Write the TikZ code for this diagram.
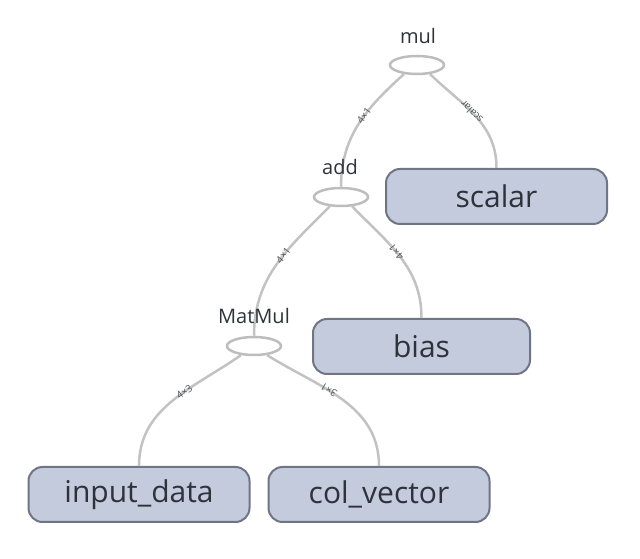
\documentclass[tikz,border=0pt]{standalone}
\usepackage{fontspec}
\setmainfont{Open Sans}
\usetikzlibrary{shapes.geometric}
\definecolor{boxfill}{HTML}{C4CBDD}
\definecolor{boxline}{HTML}{6F7585}
\definecolor{txt}{HTML}{2E323A}
\definecolor{edge}{HTML}{C2C2C2}
\definecolor{ellline}{HTML}{BDBDBD}
\tikzset{
  opnode/.style={ellipse, draw=ellline, line width=2.5pt, fill=white, minimum width=54pt, minimum height=18pt, inner sep=0pt},
  varbox/.style={rectangle, rounded corners=14pt, draw=boxline, line width=2pt, fill=boxfill, minimum width=221pt, minimum height=55pt, text=txt, font=\fontsize{30}{36}\selectfont},
  oplabel/.style={text=txt, font=\fontsize{20}{24}\selectfont, inner sep=0pt},
  conn/.style={draw=edge, line width=2.5pt},
  elabel/.style={text=txt!85, font=\fontsize{10}{12}\selectfont, inner sep=0.5pt, sloped},
}
\begin{document}
\begin{tikzpicture}[x=1pt,y=1pt]
\useasboundingbox (0,0) rectangle (640,559);
\node[opnode] (mul) at (417,494) {};
\node[opnode] (add) at (341,362) {};
\node[opnode] (matmul) at (254,213) {};
\node[varbox] (scalar) at (496.5,362.5) {scalar};
\node[varbox, minimum width=217pt] (bias) at (421.5,212.5) {bias};
\node[varbox] (input) at (139,64.5) {input\_data};
\node[varbox] (colvec) at (379,64.5) {col\_vector};
\draw[conn] (mul.215) to[out=222,in=90] node[elabel, pos=0.42] {4×1} (add.north);
\draw[conn] (scalar.north) to[out=90,in=-44] node[elabel, allow upside down, pos=0.55] {scalar} (mul.-35);
\draw[conn] (add.220) to[out=225,in=90] node[elabel, pos=0.42] {4×1} (matmul.north);
\draw[conn] (bias.north) to[out=90,in=-46] node[elabel, allow upside down, pos=0.55] {4×1} (add.-40);
\draw[conn] (matmul.215) to[out=215,in=90] node[elabel, pos=0.4] {4×3} (input.north);
\draw[conn] (colvec.north) to[out=90,in=-32] node[elabel, allow upside down, pos=0.6] {3×1} (matmul.-35);
\node[oplabel] (lmul) at (418,523) {mul};
\node[oplabel] (ladd) at (340,392) {add};
\node[oplabel] (lmatmul) at (254,243) {MatMul};
\end{tikzpicture}
\end{document}
